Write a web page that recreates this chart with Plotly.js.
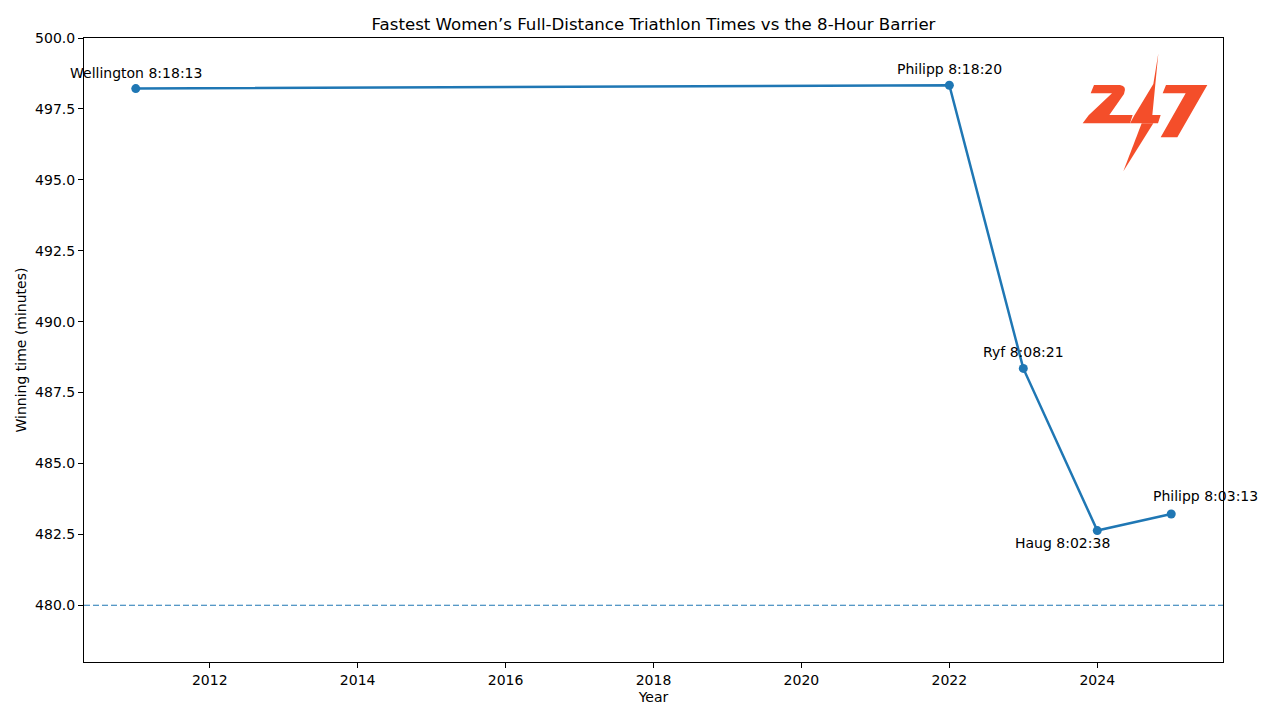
<!DOCTYPE html>
<html>
<head>
<meta charset="utf-8">
<script src="https://cdn.plot.ly/plotly-3.0.1.min.js"></script>
<style>html,body{margin:0;padding:0;background:#fff;}#chart{width:1280px;height:720px;}</style>
</head>
<body>
<div id="chart"></div>
<script>
const years = [2011, 2022, 2023, 2024, 2025];
const minutes = [498.2167, 498.3333, 488.35, 482.6333, 483.2167];
const labels = ["Wellington 8:18:13", "Philipp 8:18:20", "Ryf 8:08:21", "Haug 8:02:38", "Philipp 8:03:13"];
const labelXShift = [0, 0, 0, -35, 34];
const labelYShift = [16, 16, 16, -12, 18];
const barrier = 480;

const FONT = "DejaVu Sans, sans-serif";

const logoSvg = '<svg xmlns="http://www.w3.org/2000/svg" viewBox="0 0 450 420" width="450" height="420">' +
  '<g fill="#F44E2A">' +
  '<path d="M72,135 L150,135 Q172,138 162,162 L118,225 L188,225 L180,250 L38,250 L56,226 L126,160 L62,160 Z"/>' +
  '<path d="M265,40 L247,225 L272,225 L264,250 L180,250 L192,228 L250,132 Z"/>' +
  '<path d="M250,250 L160,394 L215,250 Z"/>' +
  '<path d="M288,135 L412,135 L322,292 L272,292 L347,160 L278,160 Z"/>' +
  '</g></svg>';
const logoSrc = 'data:image/svg+xml;base64,' + btoa(logoSvg);

const trace = {
  x: years, y: minutes, type: 'scatter', mode: 'lines+markers',
  line: {color: '#1f77b4', width: 2.5},
  marker: {color: '#1f77b4', size: 9},
  hoverinfo: 'skip', showlegend: false
};

const annotations = years.map((yr, i) => ({
  x: yr, y: minutes[i], xref: 'x', yref: 'y', text: labels[i],
  showarrow: false, xanchor: 'center', yanchor: 'middle',
  xshift: labelXShift[i], yshift: labelYShift[i],
  font: {family: FONT, size: 14, color: '#000'}
}));

const layout = {
  width: 1280, height: 720,
  margin: {l: 84, r: 57, t: 38, b: 58},
  paper_bgcolor: '#fff', plot_bgcolor: '#fff',
  font: {family: FONT, size: 14, color: '#000'},
  title: {text: 'Fastest Women’s Full-Distance Triathlon Times vs the 8-Hour Barrier',
          font: {family: FONT, size: 16.6, color: '#000'}, xref: 'paper', x: 0.5, xanchor: 'center', y: 0.967, yanchor: 'middle'},
  xaxis: {
    range: [2010.3, 2025.7], tickmode: 'linear', tick0: 2012, dtick: 2,
    showgrid: false, zeroline: false, showline: true, mirror: true, linecolor: '#000', linewidth: 1,
    ticks: 'outside', ticklen: 5, tickcolor: '#000',
    tickfont: {family: FONT, size: 14},
    title: {text: 'Year', font: {family: FONT, size: 14}, standoff: 5}
  },
  yaxis: {
    range: [478, 500], tickmode: 'linear', tick0: 480, dtick: 2.5, tickformat: '.1f',
    showgrid: false, zeroline: false, showline: true, mirror: true, linecolor: '#000', linewidth: 1,
    ticks: 'outside', ticklen: 5, tickcolor: '#000',
    tickfont: {family: FONT, size: 14},
    title: {text: 'Winning time (minutes)', font: {family: FONT, size: 14}, standoff: 5}
  },
  shapes: [{
    type: 'line', xref: 'paper', x0: 0, x1: 1, yref: 'y', y0: barrier, y1: barrier,
    line: {color: '#1f77b4', width: 1.2, dash: '6px,3px'}, layer: 'below'
  }],
  annotations: annotations,
  images: [{
    source: logoSrc, xref: 'paper', yref: 'paper',
    x: (1070 - 84) / 1139, y: (662 - 40) / 624,
    sizex: 150 / 1139, sizey: 140 / 624,
    xanchor: 'left', yanchor: 'top', sizing: 'stretch', layer: 'above'
  }]
};

Plotly.newPlot('chart', [trace], layout, {displayModeBar: false, staticPlot: true});
</script>
</body>
</html>
